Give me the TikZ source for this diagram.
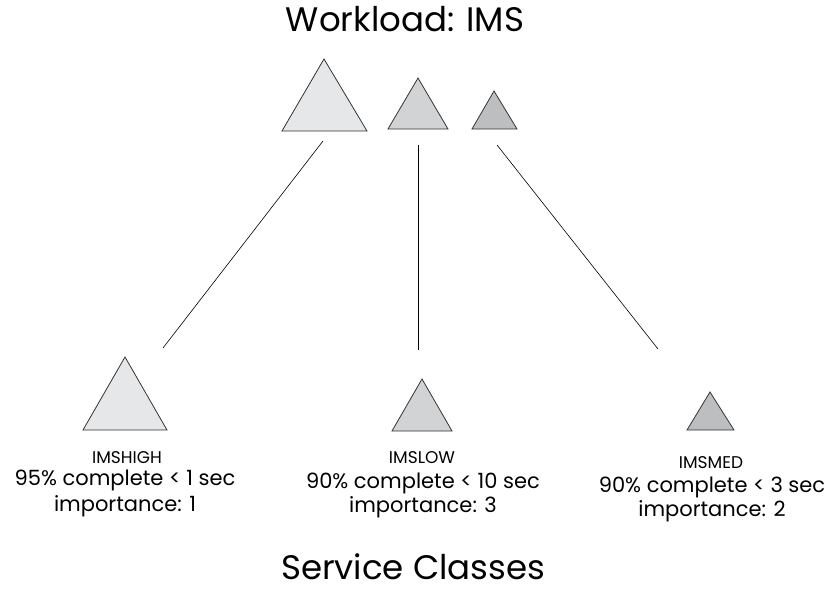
\documentclass[tikz,border=0pt]{standalone}
\usepackage{fontspec}
\setmainfont{Poppins}
\begin{document}
\begin{tikzpicture}[x=1pt,y=-1pt,
  tri/.style={draw=black!80,line width=0.8pt,line join=miter},
  conn/.style={draw=black,line width=0.6pt},
  nm/.style={font=\fontsize{17}{20}\selectfont,inner sep=0pt,anchor=base},
  lbl/.style={font=\fontsize{21}{25}\selectfont,inner sep=0pt,anchor=base},
  ttl/.style={font=\fontsize{34}{40}\selectfont,inner sep=0pt,anchor=base}]
\useasboundingbox (0,0) rectangle (830,594);
\definecolor{g1}{HTML}{E6E7E8}
\definecolor{g2}{HTML}{D1D3D4}
\definecolor{g3}{HTML}{BCBEC0}
\node[ttl] (title) at (405,32) {Workload: IMS};
% top triangles
\filldraw[tri,fill=g1] (324,59) -- (367,131) -- (282,131) -- cycle;
\filldraw[tri,fill=g2] (418,78) -- (448,129) -- (388,129) -- cycle;
\filldraw[tri,fill=g3] (494,91) -- (517,129) -- (472,129) -- cycle;
% bottom triangles
\filldraw[tri,fill=g1] (125,357) -- (167,430) -- (83,430) -- cycle;
\filldraw[tri,fill=g2] (422,379) -- (452,431) -- (392,431) -- cycle;
\filldraw[tri,fill=g3] (710,392) -- (734,430) -- (687,430) -- cycle;
% connector endpoints
\coordinate (a1) at (323,141); \coordinate (b1) at (163,348);
\coordinate (a2) at (418,145); \coordinate (b2) at (418,350);
\coordinate (a3) at (497,145); \coordinate (b3) at (658,349);
\draw[conn] (a1) -- (b1);
\draw[conn] (a2) -- (b2);
\draw[conn] (a3) -- (b3);
% labels
\node[nm] (h1) at (127,463) {IMSHIGH};
\node[lbl] (h2) at (125,485) {95\% complete < 1 sec};
\node[lbl] (h3) at (125,511) {importance: 1};
\node[nm] (l1) at (422,463) {IMSLOW};
\node[lbl] (l2) at (423,488) {90\% complete < 10 sec};
\node[lbl] (l3) at (423,512) {importance: 3};
\node[nm] (m1) at (711,468) {IMSMED};
\node[lbl] (m2) at (712,492) {90\% complete < 3 sec};
\node[lbl] (m3) at (712,516) {importance: 2};
\node[ttl] (sc) at (413,579) {Service Classes};
\end{tikzpicture}
\end{document}
